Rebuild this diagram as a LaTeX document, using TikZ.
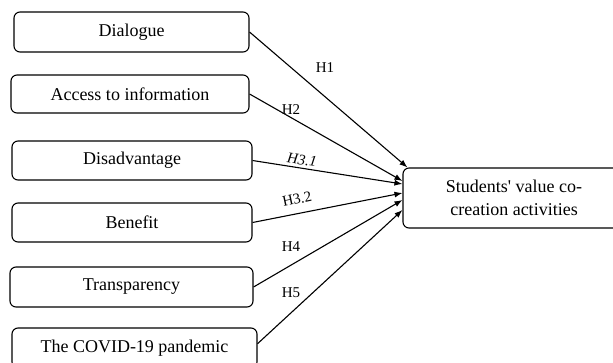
\documentclass[tikz,border=0pt]{standalone}
\usepackage{fontspec}
\setmainfont{Liberation Serif}
\usetikzlibrary{arrows.meta}

\tikzset{
    factor/.style={draw, rectangle, rounded corners=6pt, line width=1.1pt, inner sep=0pt, font=\fontsize{18}{23}\selectfont},
    link/.style={line width=1.1pt, -{Latex[length=8pt,width=6pt]}},
    hyp/.style={font=\fontsize{15}{18}\selectfont, inner sep=0pt}
}

\begin{document}
\begin{tikzpicture}[x=1pt, y=-1pt]
        \clip (0,0) rectangle (613,362);

        % Antecedents
        \node[factor, minimum width=235pt, minimum height=40pt] (dlg) at (131.5, 32) {Dialogue};
        \node[factor, minimum width=238pt, minimum height=38pt] (acc) at (130, 94) {Access to information};
        \node[factor, minimum width=240pt, minimum height=39pt] (dis) at (132, 160.5) {Disadvantage};
        \node[factor, minimum width=240pt, minimum height=39pt] (ben) at (132, 222.5) {Benefit};
        \node[factor, minimum width=243pt, minimum height=40pt] (tra) at (131.5, 287) {Transparency};
        \node[factor, minimum width=245pt, minimum height=40pt] (cov) at (134.5, 348) {The COVID-19 pandemic};

        % Outcome
        \node[factor, minimum width=222pt, minimum height=60pt, align=center] (svc) at (514, 198) {Students\textquotesingle{} value co-\\creation activities};

        % Paths
        \draw[link] (dlg.east) -- ([xshift=5pt]svc.north west);
        \draw[link] (acc.east) -- ([yshift=17pt]svc.west);
        \draw[link] (dis.east) -- ([yshift=14pt]svc.west);
        \draw[link] (ben.east) -- ([yshift=5pt]svc.west);
        \draw[link] (tra.east) -- ([yshift=-2pt]svc.west);
        \draw[link] (cov.2) -- ([yshift=-12pt]svc.west);

        % Hypotheses
        \node[hyp] (h1) at (325, 68) {H1};
        \node[hyp] (h2) at (291, 110) {H2};
        \node[hyp, rotate=-8] (h31) at (302, 160) {\itshape H3.1};
        \node[hyp, rotate=12] (h32) at (297, 199) {H3.2};
        \node[hyp] (h4) at (291, 247) {H4};
        \node[hyp] (h5) at (291, 293) {H5};
    \end{tikzpicture}
\end{document}
